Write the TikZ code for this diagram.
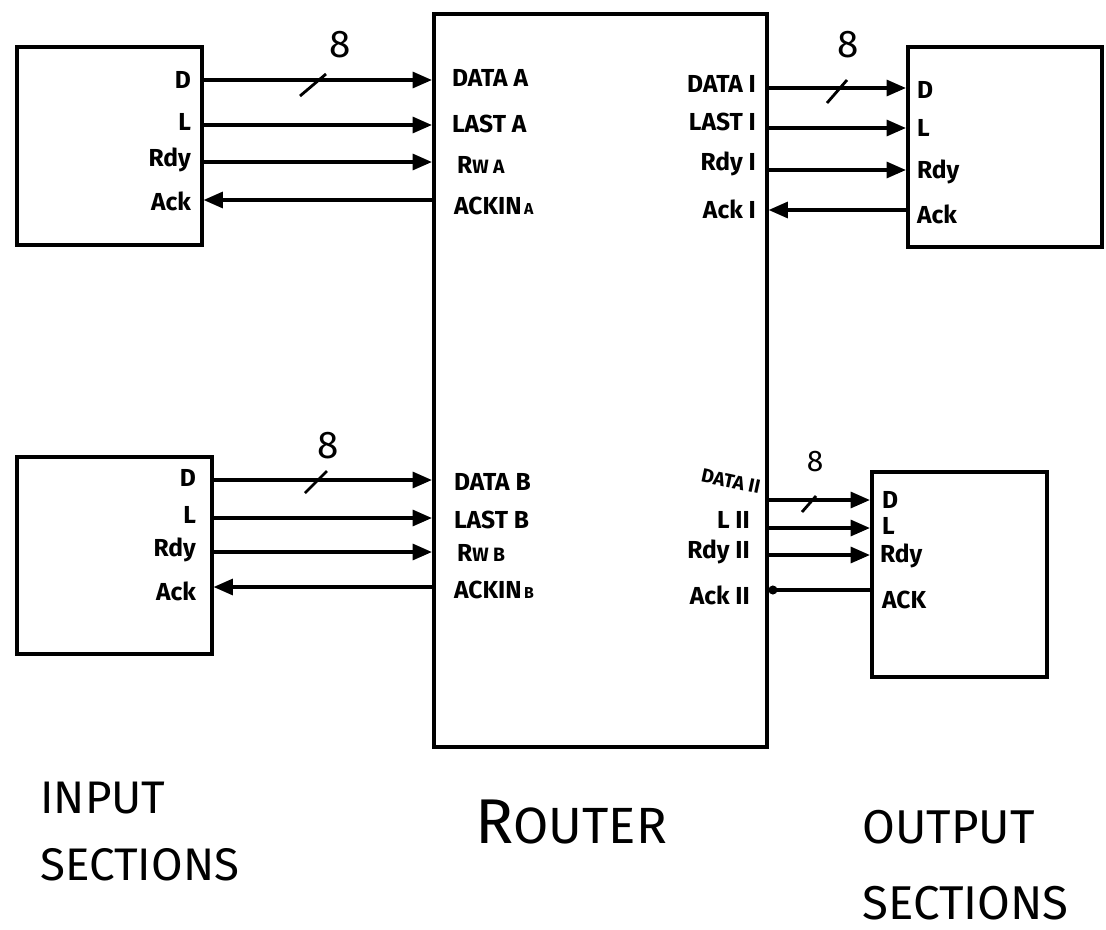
\documentclass[tikz,border=0pt]{standalone}
\usepackage{fontspec}
\setmainfont{Fira Sans}
\usetikzlibrary{arrows.meta}
\tikzset{
  box/.style={draw, line width=2pt, inner sep=0pt, anchor=north west},
  sig/.style={line width=2pt, -{Triangle[length=11pt,width=9pt]}},
  ackdot/.style={line width=2pt, -{Circle[length=5pt]}},
  lbl/.style={font=\fontsize{14}{16}\selectfont\bfseries, inner sep=1pt},
  lblr/.style={lbl, anchor=east},
  lbll/.style={lbl, anchor=west},
  bus/.style={line width=1.6pt},
  busw/.style={font=\fontsize{22}{24}\selectfont, inner sep=0pt},
  big/.style={font=\fontsize{26}{32}\selectfont, align=left, inner sep=0pt}
}
\newcommand\mkbox[5]{\node[box, minimum width=#4*0.02cm, minimum height=#5*0.02cm] (#1) at (#2,#3) {};}
\begin{document}
\begin{tikzpicture}[x=0.02cm,y=-0.02cm]
\useasboundingbox (0,0) rectangle (1106,930);

% boxes
\mkbox{inA}{15}{45}{185}{198}
\mkbox{router}{432}{12}{333}{733}
\mkbox{outI}{906}{45}{194}{200}
\mkbox{inB}{15}{455}{195}{197}
\mkbox{outII}{870}{470}{175}{205}

% input A labels
\node[lblr] (aD) at (193,80) {D};
\node[lblr] (aL) at (193,122) {L};
\node[lblr] (aR) at (193,160) {Rdy};
\node[lblr] (aK) at (193,201) {Ack};
% router A labels
\node[lbll] (rDA) at (450,78) {DATA A};
\node[lbll] (rLA) at (450,124) {LAST A};
\node[lbll] (rRA) at (455,165) {R{\fontsize{11}{12}\selectfont W A}};
\node[lbll] (rKA) at (452,206) {ACKIN{\fontsize{9}{10}\selectfont\,A}};
% router I labels
\node[lblr] (rDI) at (758,84) {DATA I};
\node[lblr] (rLI) at (758,122) {LAST I};
\node[lblr] (rRI) at (758,164) {Rdy I};
\node[lblr] (rKI) at (758,209) {Ack I};
% output I labels
\node[lbll] (oD) at (915,90) {D};
\node[lbll] (oL) at (915,128) {L};
\node[lbll] (oR) at (915,172) {Rdy};
\node[lbll] (oK) at (915,214) {Ack};

% input B labels
\node[lblr] (bD) at (198,478) {D};
\node[lblr] (bL) at (198,515) {L};
\node[lblr] (bR) at (198,550) {Rdy};
\node[lblr] (bK) at (198,591) {Ack};
% router B labels
\node[lbll] (rDB) at (452,482) {DATA B};
\node[lbll] (rLB) at (452,520) {LAST B};
\node[lbll] (rRB) at (455,553) {R{\fontsize{11}{12}\selectfont W B}};
\node[lbll] (rKB) at (452,590) {ACKIN{\fontsize{9}{10}\selectfont\,B}};
% router II labels
\node[lblr, font=\fontsize{11}{12}\selectfont\bfseries, rotate=-12] (rDII) at (762,488) {DATA II};
\node[lblr] (rLII) at (752,520) {L II};
\node[lblr] (rRII) at (752,552) {Rdy II};
\node[lblr] (rKII) at (752,595) {Ack II};
% output II labels
\node[lbll] (pD) at (880,500) {D};
\node[lbll] (pL) at (880,526) {L};
\node[lbll] (pR) at (878,556) {Rdy};
\node[lbll] (pK) at (880,600) {ACK};

% connectors A
\draw[sig] (inA.east |- 0,80) -- (router.west |- 0,80);
\draw[sig] (inA.east |- 0,125) -- (router.west |- 0,125);
\draw[sig] (inA.east |- 0,162) -- (router.west |- 0,162);
\draw[sig] (router.west |- 0,200) -- (inA.east |- 0,200);
% connectors I
\draw[sig] (router.east |- 0,88) -- (outI.west |- 0,88);
\draw[sig] (router.east |- 0,128) -- (outI.west |- 0,128);
\draw[sig] (router.east |- 0,170) -- (outI.west |- 0,170);
\draw[sig] (outI.west |- 0,210) -- (router.east |- 0,210);
% connectors B
\draw[sig] (inB.east |- 0,480) -- (router.west |- 0,480);
\draw[sig] (inB.east |- 0,518) -- (router.west |- 0,518);
\draw[sig] (inB.east |- 0,552) -- (router.west |- 0,552);
\draw[sig] (router.west |- 0,587) -- (inB.east |- 0,587);
% connectors II
\draw[sig] (router.east |- 0,500) -- (outII.west |- 0,500);
\draw[sig] (router.east |- 0,528) -- (outII.west |- 0,528);
\draw[sig] (router.east |- 0,555) -- (outII.west |- 0,555);
\draw[ackdot] (outII.west |- 0,590) -- (router.east |- 0,590);

% bus widths
\draw[bus] (300,96) -- (326,74);
\node[busw] (wA) at (340,45) {8};
\draw[bus] (827,103) -- (847,80);
\node[busw] (wI) at (848,45) {8};
\draw[bus] (305,493) -- (327,471);
\node[busw] (wB) at (328,446) {8};
\draw[bus] (802,512) -- (816,496);
\node[busw, font=\fontsize{17}{20}\selectfont] (wII) at (815,462) {8};

% captions
\node[big, anchor=north west] (cin) at (40,782) {INPUT\\[6pt]SECTIONS};
\node[big, anchor=west] (crt) at (475,822) {{\fontsize{36}{40}\selectfont R}{\fontsize{29}{34}\selectfont OUTER}};
\node[big, anchor=north west, font=\fontsize{27}{33}\selectfont] (cout) at (862,810) {OUTPUT\\[10pt]SECTIONS};
\end{tikzpicture}
\end{document}
